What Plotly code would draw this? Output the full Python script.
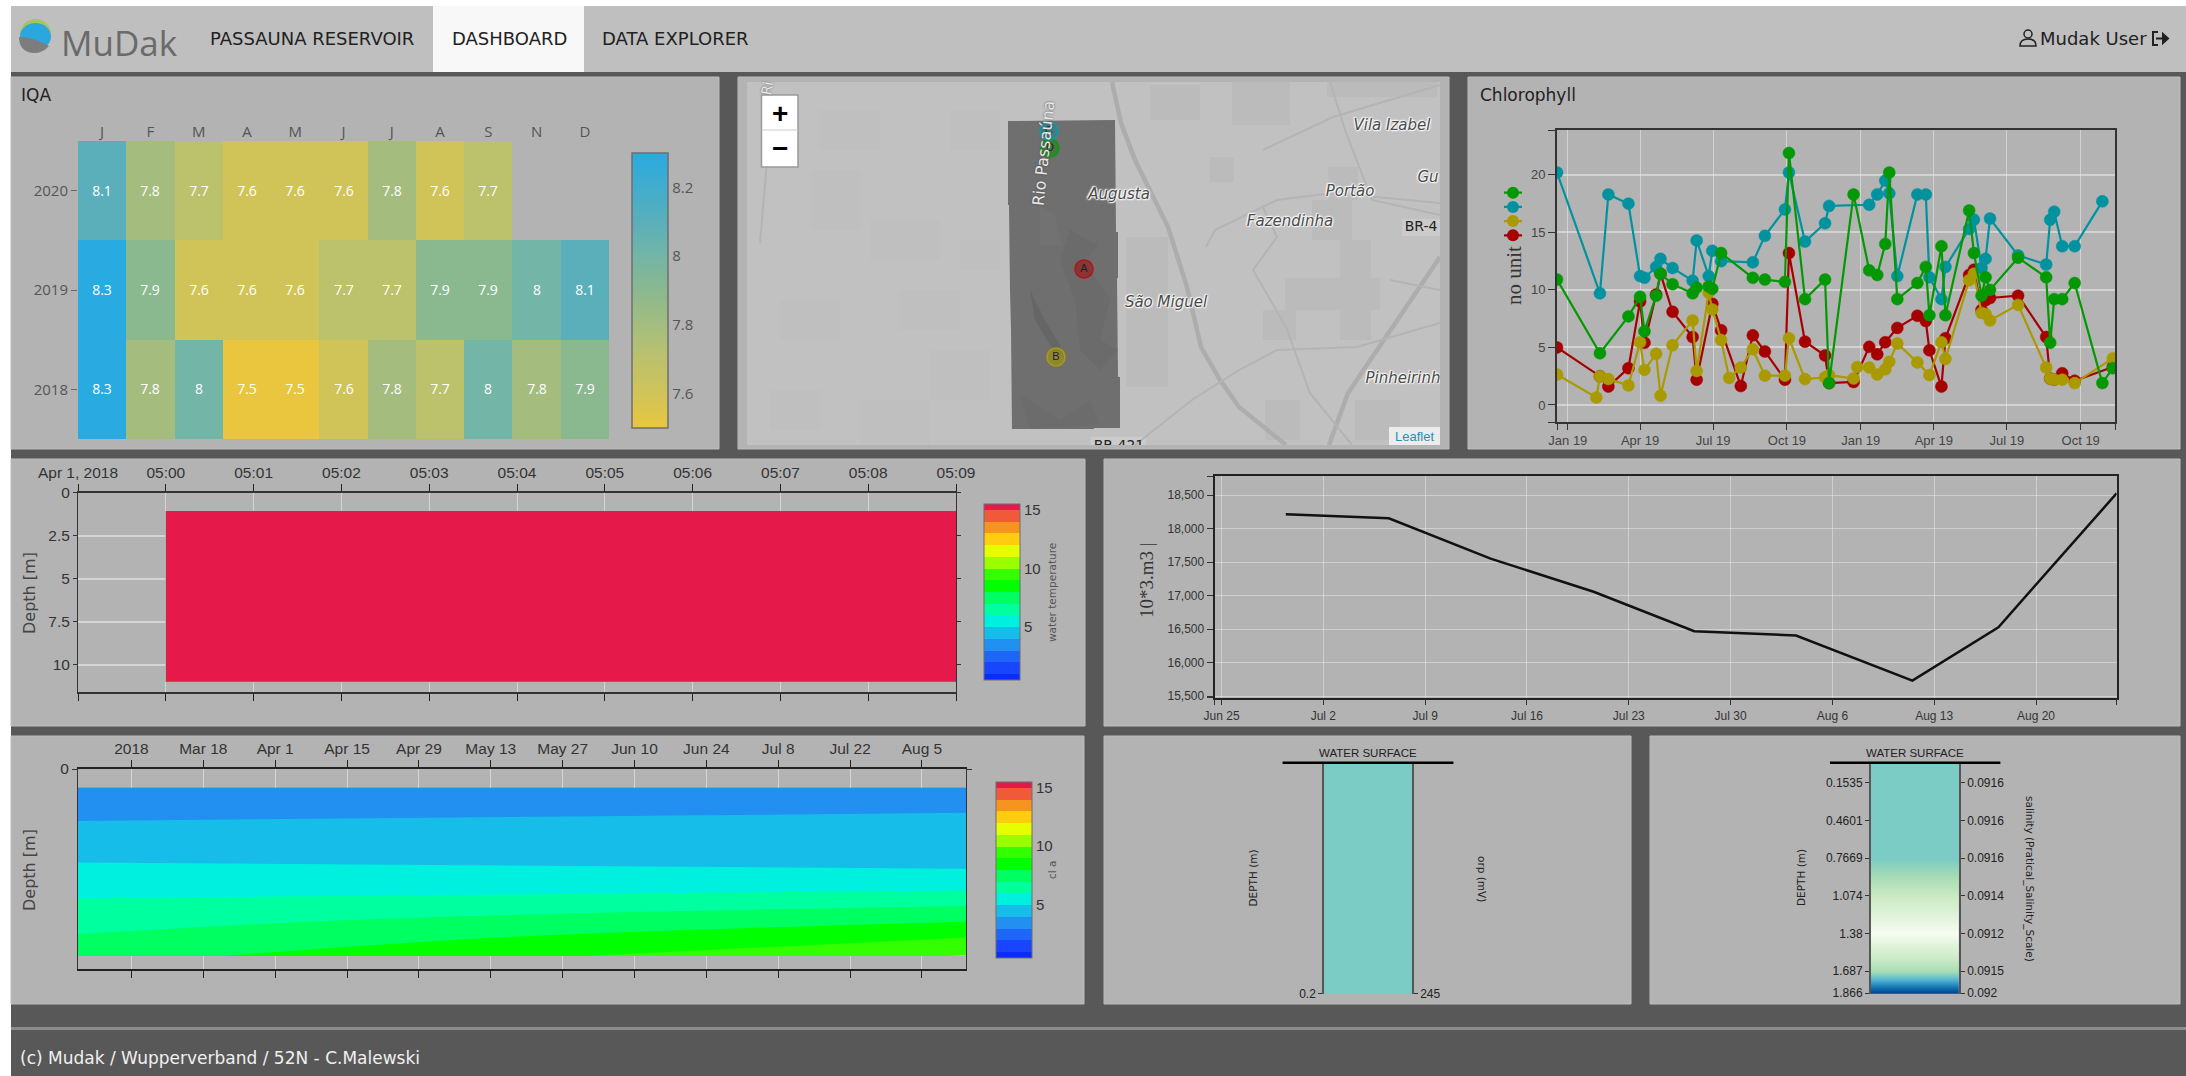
import pandas as pd
import plotly.graph_objects as go

W, H = 2186, 1076

# ---------- IQA heatmap ----------
iqa_months = ["J", "F", "M", "A", "M", "J", "J", "A", "S", "N", "D"]
iqa_years = ["2018", "2019", "2020"]
iqa_2018 = [8.3, 7.8, 8, 7.5, 7.5, 7.6, 7.8, 7.7, 8, 7.8, 7.9]
iqa_2019 = [8.3, 7.9, 7.6, 7.6, 7.6, 7.7, 7.7, 7.9, 7.9, 8, 8.1]
iqa_2020 = [8.1, 7.8, 7.7, 7.6, 7.6, 7.6, 7.8, 7.6, 7.7, None, None]
iqa_ticks = [7.6, 7.8, 8, 8.2]

# ---------- Chlorophyll (x = half-days after 1 Jan) ----------
chl_teal_x = [-27, 80, 101, 151, 180, 191, 220, 231, 261, 311, 321, 351, 360, 382, 461, 491, 541, 551, 591, 641, 651, 751, 771, 791, 801, 821, 871, 892, 901, 931, 941, 1000, 1012, 1031, 1041, 1052, 1122, 1192, 1202, 1212, 1232, 1263, 1332]
chl_teal_y = [20.2, 9.7, 18.3, 17.5, 11.2, 11.05, 12.0, 12.7, 11.9, 10.8, 14.3, 11.2, 13.4, 12.5, 12.4, 14.7, 17.0, 20.2, 14.2, 15.8, 17.3, 17.4, 18.3, 19.5, 18.4, 11.2, 18.3, 18.3, 11.1, 9.2, 12.0, 15.3, 16.1, 11.9, 12.7, 16.2, 13.0, 12.2, 16.1, 16.8, 13.8, 13.8, 17.7]
chl_green_x = [-27, 80, 151, 180, 191, 220, 231, 261, 311, 321, 351, 360, 382, 461, 491, 541, 551, 591, 641, 651, 712, 751, 771, 791, 801, 821, 871, 892, 901, 931, 941, 1000, 1012, 1031, 1041, 1052, 1122, 1192, 1202, 1212, 1232, 1263, 1332, 1358]
chl_green_y = [10.9, 4.5, 7.7, 9.4, 6.4, 9.5, 11.4, 10.5, 9.7, 10.2, 10.3, 10.1, 13.2, 11.05, 10.9, 10.7, 21.9, 9.2, 10.9, 1.9, 18.3, 11.7, 11.3, 14.0, 20.2, 9.2, 10.6, 12.0, 7.8, 13.8, 7.8, 16.9, 13.2, 9.5, 11.1, 10.0, 12.8, 11.1, 5.4, 9.2, 9.2, 10.6, 1.9, 3.2]
chl_red_x = [-27, 80, 101, 151, 180, 191, 220, 231, 261, 311, 321, 360, 382, 431, 461, 491, 541, 551, 591, 641, 651, 712, 751, 771, 791, 821, 871, 892, 901, 931, 941, 1000, 1012, 1031, 1041, 1052, 1122, 1192, 1202, 1212, 1232, 1263, 1358]
chl_red_y = [5.0, 2.5, 1.6, 3.2, 9.0, 5.4, 9.6, 11.4, 8.1, 5.9, 2.2, 8.8, 6.5, 1.65, 6.05, 4.65, 2.2, 13.2, 5.5, 4.3, 1.9, 2.0, 5.05, 4.4, 5.45, 6.7, 7.75, 7.3, 4.75, 1.6, 5.8, 11.3, 11.75, 8.25, 9.1, 9.3, 9.5, 5.9, 2.3, 2.2, 2.75, 2.1, 3.3]
chl_olive_x = [-27, 71, 80, 101, 151, 180, 191, 220, 231, 261, 311, 321, 351, 360, 382, 402, 431, 461, 491, 541, 551, 591, 641, 651, 712, 721, 751, 771, 791, 801, 821, 871, 901, 931, 941, 1000, 1012, 1031, 1041, 1052, 1122, 1192, 1202, 1212, 1232, 1263, 1358]
chl_olive_y = [2.65, 0.65, 2.5, 2.25, 1.7, 5.45, 3.05, 4.45, 0.8, 5.2, 7.35, 2.95, 9.75, 8.3, 5.65, 2.35, 3.25, 4.85, 2.55, 2.55, 5.8, 2.25, 2.4, 2.6, 2.3, 3.3, 3.25, 2.65, 3.1, 3.75, 5.35, 3.7, 2.6, 5.45, 4.0, 10.85, 11.4, 8.0, 7.9, 7.35, 8.7, 3.25, 2.3, 2.2, 2.2, 1.9, 4.05]
chl_tick_dates = ["2019-01-01", "2019-04-01", "2019-07-01", "2019-10-01", "2020-01-01", "2020-04-01", "2020-07-01", "2020-10-01"]
chl_tick_text = ["Jan 19", "Apr 19", "Jul 19", "Oct 19", "Jan 19", "Apr 19", "Jul 19", "Oct 19"]
chl_y_ticks = [0, 5, 10, 15, 20]

# ---------- Water temperature depth-time panel ----------
temp_times = ["2018-04-01 05:00", "2018-04-01 05:09"]
temp_depths = [1.06, 10.96, 11.0]
temp_values = [[15.7, 15.7], [15.7, 15.7], [14.5, 14.5]]
temp_tick_times = ["2018-04-01 04:59", "2018-04-01 05:00", "2018-04-01 05:01", "2018-04-01 05:02", "2018-04-01 05:03", "2018-04-01 05:04", "2018-04-01 05:05", "2018-04-01 05:06", "2018-04-01 05:07", "2018-04-01 05:08", "2018-04-01 05:09"]
temp_tick_text = ["Apr 1, 2018", "05:00", "05:01", "05:02", "05:03", "05:04", "05:05", "05:06", "05:07", "05:08", "05:09"]
temp_depth_ticks = [0, 2.5, 5, 7.5, 10]
jet_bands = ["#0a2cff", "#1a45ff", "#1d66f7", "#2190f0", "#16bde8", "#00f0e0", "#00ff9f", "#00ff60", "#00ff00", "#33ff00", "#99ff00", "#e6ff00", "#ffcc0f", "#f5941f", "#f15a38", "#e61a4a"]

# ---------- Volume line ----------
vol_dates = ["2019-06-29 10:00", "2019-07-06 12:00", "2019-07-13 12:00", "2019-07-20 14:00", "2019-07-27 12:00", "2019-08-03 12:00", "2019-08-11 12:00", "2019-08-17 10:00", "2019-08-25 13:00"]
vol_values = [18214, 18154, 17551, 17057, 16467, 16403, 15730, 16527, 18525]
vol_tick_dates = ["2019-06-25", "2019-07-02", "2019-07-09", "2019-07-16", "2019-07-23", "2019-07-30", "2019-08-06", "2019-08-13", "2019-08-20"]
vol_tick_text = ["Jun 25", "Jul 2", "Jul 9", "Jul 16", "Jul 23", "Jul 30", "Aug 6", "Aug 13", "Aug 20"]
vol_y_ticks = [15500, 16000, 16500, 17000, 17500, 18000, 18500]

# ---------- chl-a depth-time panel ----------
chla_dates = ["2018-02-21 14:00", "2018-08-13 14:00"]
chla_depths = [1, 2, 3, 4, 5, 6, 7, 8, 9, 10]
chla_start = [3.2, 3.65, 4.10, 4.54, 5.0, 5.52, 6.04, 6.57, 7.09, 7.6]
chla_end = [3.5, 3.89, 4.21, 4.51, 4.8, 5.39, 6.6, 7.8, 8.98, 10.05]
chla_tick_dates = ["2018-03-04", "2018-03-18", "2018-04-01", "2018-04-15", "2018-04-29", "2018-05-13", "2018-05-27", "2018-06-10", "2018-06-24", "2018-07-08", "2018-07-22", "2018-08-05"]
chla_tick_text = ["2018", "Mar 18", "Apr 1", "Apr 15", "Apr 29", "May 13", "May 27", "Jun 10", "Jun 24", "Jul 8", "Jul 22", "Aug 5"]

# ---------- Profile strips ----------
orp_depths = [0.0, 0.2]
orp_values = [245, 245]
sal_depths = [0.1535, 0.4601, 0.7669, 1.074, 1.38, 1.687, 1.9937]
sal_values = [0.0916, 0.0916, 0.0916, 0.0914, 0.0912, 0.0915, 0.09236]
sal_depth_ticks = [0.1535, 0.4601, 0.7669, 1.074, 1.38, 1.687, 1.866]
sal_depth_text = ["0.1535", "0.4601", "0.7669", "1.074", "1.38", "1.687", "1.866"]
sal_value_text = ["0.0916", "0.0916", "0.0916", "0.0914", "0.0912", "0.0915", "0.092"]
gnbu = ["#f7fcf0", "#e0f3db", "#ccebc5", "#a8ddb5", "#7bccc4", "#4eb3d3", "#2b8cbe", "#0868ac", "#084081"]

# ---------- Map ----------
site_names = ["D", "C", "A", "B"]
site_x = [1050, 1049, 1084, 1056]
site_y = [148, 131, 269, 357]
site_fill = ["rgba(0,140,0,.45)", "rgba(0,150,160,.5)", "rgba(170,0,0,.5)", "rgba(170,153,0,.55)"]
site_line = ["#0a9b0a", "#109aa6", "#b01515", "#a89b10"]
place_names = ["Vila Izabel", "Gu", "Portão", "Fazendinha", "Augusta", "São Miguel", "Pinheirinh"]
place_x = [1392, 1428, 1350, 1290, 1119, 1166, 1403]
place_y = [126, 178, 192, 222, 195, 303, 379]
road_major = [
    ([1112, 1121, 1135, 1168, 1187, 1201, 1220, 1239, 1286], [82, 123, 160, 227, 287, 347, 380, 407, 445]),
    ([1440, 1381, 1348, 1329], [257, 343, 393, 445]),
]
road_minor = [
    ([1135, 1192, 1239, 1277, 1357, 1440], [445, 400, 370, 350, 347, 323]),
    ([1206, 1215, 1277, 1333, 1440], [247, 230, 200, 193, 203]),
    ([1253, 1286, 1310, 1352], [270, 327, 393, 445]),
    ([1263, 1333, 1440], [150, 117, 85]),
    ([1253, 1277, 1262], [270, 237, 205]),
    ([1390, 1440], [280, 290]),
    ([1330, 1345, 1372, 1440], [82, 130, 200, 215]),
    ([767, 760], [160, 243]),
]

FS = "Liberation Sans"
UI = "DejaVu Sans"
SERIF = "Liberation Serif"
PANEL = "#b3b3b3"
DARK = "#585858"

fig = go.Figure()
layout = {}
shapes, anns = [], []


def axes(n, box, xopts, yopts):
    x0, x1, y0, y1 = box
    sx = "" if n == 1 else str(n)
    xd = dict(domain=[x0 / W, x1 / W], anchor=f"y{sx}", zeroline=False, showgrid=False, layer="below traces")
    yd = dict(domain=[1 - y1 / H, 1 - y0 / H], anchor=f"x{sx}", zeroline=False, showgrid=False, layer="below traces")
    xd.update(xopts)
    yd.update(yopts)
    layout[f"xaxis{sx}"] = xd
    layout[f"yaxis{sx}"] = yd
    return f"x{sx}", f"y{sx}"


def rect(x0, y0, x1, y1, fill, line=None, lw=0):
    shapes.append(dict(type="rect", xref="x", yref="y", x0=x0, y0=y0, x1=x1, y1=y1, fillcolor=fill,
                       line=dict(color=line or fill, width=lw), layer="below"))


def path(d, fill="rgba(0,0,0,0)", line="rgba(0,0,0,0)", lw=0):
    shapes.append(dict(type="path", xref="x", yref="y", path=d, fillcolor=fill, line=dict(color=line, width=lw), layer="below"))


def text(x, y, s, size, color="#222", family=UI, xa="center", angle=0, **font):
    anns.append(dict(xref="x", yref="y", x=x, y=y, text=s, showarrow=False, xanchor=xa, yanchor="middle",
                     textangle=angle, font=dict(family=family, size=size, color=color, **font)))


# ---------- chrome, in pixel space ----------
xp, yp = axes(1, (0, W, 0, H), dict(range=[0, W], visible=False), dict(range=[H, 0], visible=False))
fig.add_trace(go.Scatter(x=[0], y=[0], mode="markers", marker=dict(size=1, opacity=0), xaxis=xp, yaxis=yp, showlegend=False, hoverinfo="skip"))

rect(0, 0, W, 6, "#ffffff")
rect(0, 0, 11, H, "#ffffff")
rect(11, 6, W, 72, "#bfbfbf")
rect(433, 6, 584, 72, "#f8f8f8")
for b in [(11, 77, 719, 449), (738, 77, 1449, 449), (1468, 77, 2180, 449),
          (11, 459, 1085, 726), (1104, 459, 2180, 726),
          (11, 736, 1084, 1004), (1104, 736, 1631, 1004), (1650, 736, 2180, 1004)]:
    rect(b[0], b[1], b[2], b[3], PANEL, "#bcbcbc", 1)
rect(11, 1027, W, 1030, "#8c8c8c")

# logo
shapes.append(dict(type="circle", xref="x", yref="y", x0=20, y0=19, x1=51, y1=50, fillcolor="#a9c45c", line=dict(width=0), layer="below"))
shapes.append(dict(type="circle", xref="x", yref="y", x0=20, y0=23, x1=51, y1=50, fillcolor="#2aa7df", line=dict(width=0), layer="below"))
path("M 19 37 Q 33 37 49 46 Q 42 54 32 53 Q 19 51 19 37 Z", "#7d7d7d")
text(59, 42, "MuDak", 35, "#6a6a6a", "Open Sans", "left")
text(312, 38, "PASSAUNA RESERVOIR", 18, "#222")
text(509, 38, "DASHBOARD", 18, "#222")
text(675, 38, "DATA EXPLORER", 18, "#222")
text(2093, 38, "Mudak User", 18, "#222")
shapes.append(dict(type="circle", xref="x", yref="y", x0=2024, y0=30, x1=2032, y1=38, line=dict(color="#222", width=1.5), layer="below"))
path("M 2020 46 Q 2020 39 2028 39 Q 2036 39 2036 46 Z", line="#222", lw=1.5)
path("M 2158 32 L 2153 32 L 2153 45 L 2158 45", line="#222", lw=2)
path("M 2156 38.5 L 2163 38.5 M 2163 34 L 2168 38.5 L 2163 43 Z", "#222", "#222", 2)

text(19, 95, "IQA", 17, "#222", xa="left")
text(1478, 95, "Chlorophyll", 17, "#222", xa="left")
text(18, 1058, "(c) Mudak / Wupperverband / 52N - C.Malewski", 17, "#f0f0f0", xa="left")

# ---------- IQA ----------
xh, yh = axes(2, (78, 609, 141, 439),
              dict(side="top", range=[-0.5, 10.5], tickmode="array", tickvals=list(range(11)), ticktext=iqa_months,
                   tickfont=dict(family="Open Sans", size=15, color="#555"), ticks=""),
              dict(type="category", categoryorder="array", categoryarray=iqa_years, tickfont=dict(family="Open Sans", size=15, color="#555"),
                   ticks="outside", ticklen=6, tickcolor="#666"))
iqa_scale = [[0, "#e9c63e"], [0.125, "#d0c459"], [0.25, "#bcc16c"], [0.375, "#a4bd7f"], [0.5, "#8ab88f"],
             [0.625, "#73b5a6"], [0.75, "#5aafba"], [1, "#29aae1"]]
fig.add_trace(go.Heatmap(
    z=[iqa_2018, iqa_2019, iqa_2020], x=list(range(11)), y=iqa_years, xaxis=xh, yaxis=yh, zmin=7.5, zmax=8.3,
    colorscale=iqa_scale, texttemplate="%{z}", textfont=dict(family="Open Sans", size=14, color="#fff"), hoverongaps=False,
    colorbar=dict(x=632 / W, xanchor="left", xpad=0, ypad=0, y=1 - 153 / H, yanchor="top", lenmode="pixels", len=275,
                  thickness=36, tickmode="array", tickvals=iqa_ticks, ticktext=["7.6", "7.8", "8", "8.2"], ticks="",
                  tickfont=dict(family="Open Sans", size=15, color="#555"), outlinecolor="#6f6f6f", outlinewidth=1.5)))

# ---------- Map ----------
rect(747, 82, 1440, 445, "#c1c1c1")
for b in [(1126, 237, 1168, 387), (1210, 157, 1234, 182), (1263, 310, 1296, 340), (1285, 278, 1380, 310),
          (1312, 200, 1352, 240), (1340, 240, 1371, 340), (1328, 167, 1358, 200), (1327, 82, 1437, 97),
          (1232, 82, 1290, 125), (1150, 85, 1200, 120), (1265, 400, 1300, 440), (1355, 400, 1400, 440)]:
    rect(b[0], b[1], b[2], b[3], "#bbbbbb")
for b in [(812, 170, 860, 230), (780, 300, 840, 340), (860, 400, 930, 445), (870, 220, 940, 260), (950, 110, 1000, 150),
          (770, 390, 820, 430), (900, 290, 960, 330), (820, 110, 880, 150), (930, 350, 990, 400), (960, 240, 1000, 270)]:
    rect(b[0], b[1], b[2], b[3], "#bfbfbf")
path("M 1008 121 L 1115 120 L 1116 232 L 1118 232 L 1118 278 L 1117 278 L 1118 377 L 1120 377 L 1120 428 L 1094 428 L 1094 429 L 1012 429 L 1011 330 L 1010 290 L 1009 205 L 1008 205 Z", "#6f6f6f")
path("M 1030 290 L 1045 320 L 1060 345 L 1064 360 L 1050 345 L 1035 320 Z", "#666666")
path("M 1070 230 L 1098 245 L 1085 262 L 1110 300 L 1100 340 L 1118 350 L 1100 370 L 1080 350 L 1075 300 L 1060 262 Z", "#6b6b6b")
path("M 1010 365 L 1020 395 L 1060 420 L 1090 400 L 1100 425 L 1030 428 Z", "#6c6c6c")
path("M 1040 205 L 1055 215 L 1062 245 L 1040 245 Z", "#727272")

xm, ym = axes(3, (747, 1440, 82, 445), dict(range=[747, 1440], visible=False), dict(range=[445, 82], visible=False))
for (rx, ry) in road_major:
    fig.add_trace(go.Scatter(x=rx, y=ry, mode="lines", line=dict(color="#adadad", width=4.5), xaxis=xm, yaxis=ym, showlegend=False, hoverinfo="skip"))
for (rx, ry) in road_minor:
    fig.add_trace(go.Scatter(x=rx, y=ry, mode="lines", line=dict(color="#b4b4b4", width=2), xaxis=xm, yaxis=ym, showlegend=False, hoverinfo="skip"))
halo = "0 0 2px #fff, 0 0 2px #fff, 0 0 3px #fff, 1px 1px 1px #eee, -1px -1px 1px #eee"
fig.add_trace(go.Scatter(x=site_x, y=site_y, text=site_names, mode="markers+text", textposition="middle center",
                         textfont=dict(family=FS, size=11, color="#222"),
                         marker=dict(size=18, color=site_fill, line=dict(color=site_line, width=1.5)),
                         xaxis=xm, yaxis=ym, showlegend=False, hoverinfo="skip"))
fig.add_trace(go.Scatter(x=place_x, y=place_y, text=place_names, mode="text",
                         textfont=dict(family=UI, size=15, color="#4a4a4a", style="italic", shadow=halo),
                         xaxis=xm, yaxis=ym, showlegend=False, hoverinfo="skip"))
rect(1402, 219, 1440, 236, "#cbcbcb")
rect(1091, 437, 1146, 445, "#cbcbcb")
fig.add_trace(go.Scatter(x=[1421, 1119], y=[227, 446], text=["BR-4", "BR-421"], mode="text",
                         textfont=dict(family=UI, size=14, color="#222"), xaxis=xm, yaxis=ym, showlegend=False, hoverinfo="skip"))
text(1043, 153, "Rio Passaúna", 16, "#e8e8e8", UI, angle=-84, shadow="0 0 2px #444", style="normal")
text(767, 88, "Ri", 14, "#e8e8e8", UI, angle=-80, shadow="0 0 2px #555")
rect(1389, 427, 1440, 445, "#ececec")
text(1414, 436, "Leaflet", 13, "#2a8fb5", FS)
shapes.append(dict(type="rect", xref="x", yref="y", x0=761.5, y0=95, x1=798, y1=167, fillcolor="#fff",
                   line=dict(color="#9a9a9a", width=1.5), layer="above"))
shapes.append(dict(type="line", xref="x", yref="y", x0=762, y0=130, x1=798, y1=130, line=dict(color="#ccc", width=1), layer="above"))
text(780, 113, "+", 28, "#000", FS, weight="bold")
text(780, 148, "−", 28, "#000", FS, weight="bold")

# ---------- Chlorophyll ----------
day0 = pd.Timestamp("2019-01-01")


def chl_dates(halfdays):
    return [day0 + pd.Timedelta(hours=12 * d) for d in halfdays]


left_end, right_end = chl_dates([-27, 1363.5])
grid = "rgba(235,235,235,.55)"
xc, yc = axes(4, (1557, 2115, 130, 422),
              dict(type="date", range=[left_end, right_end], tickmode="array", tickvals=[left_end] + chl_tick_dates + [right_end],
                   ticktext=[""] + chl_tick_text + [""], ticks="outside", ticklen=6, tickcolor="#333",
                   tickfont=dict(family=FS, size=13, color="#444"), showgrid=True, gridcolor=grid, gridwidth=1,
                   showline=True, linecolor="#333", linewidth=1.5, mirror=True),
              dict(range=[-1.48, 23.9], tickmode="array", tickvals=[-1.48] + chl_y_ticks + [23.9],
                   ticktext=[""] + [str(v) for v in chl_y_ticks] + [""], ticks="outside", ticklen=7, tickcolor="#333",
                   tickfont=dict(family=FS, size=13, color="#444"), showgrid=True, gridcolor=grid, gridwidth=1.5,
                   showline=True, linecolor="#333", linewidth=2, mirror=True))
chl_series = [("A", chl_red_x, chl_red_y, "#a60000"), ("B", chl_olive_x, chl_olive_y, "#a89a00"),
              ("C", chl_teal_x, chl_teal_y, "#00939f"), ("D", chl_green_x, chl_green_y, "#049904")]
for name, sx, sy, col in chl_series:
    fig.add_trace(go.Scatter(x=chl_dates(sx), y=sy, name=name, mode="lines+markers", xaxis=xc, yaxis=yc, showlegend=False,
                             line=dict(color=col, width=2.2), marker=dict(size=12, color=col, line=dict(color=col, width=0.5))))
xl, yl = axes(5, (1504, 1522, 186.3, 241.7), dict(range=[0, 2], visible=False), dict(range=[3.45, -0.45], visible=False))
for i, (name, sx, sy, col) in enumerate(reversed(chl_series)):
    fig.add_trace(go.Scatter(x=[0, 2], y=[i, i], mode="lines", line=dict(color=col, width=2.2),
                             xaxis=xl, yaxis=yl, showlegend=False, hoverinfo="skip"))
    fig.add_trace(go.Scatter(x=[1], y=[i], mode="markers", marker=dict(size=12, color=col),
                             xaxis=xl, yaxis=yl, showlegend=False, hoverinfo="skip"))
text(1514, 276, "no unit", 21, "#333", SERIF, angle=-90)

# ---------- Water temperature ----------
cell_grid = "rgba(235,235,235,.6)"
xt, yt = axes(6, (78, 956, 492.7, 691.7),
              dict(type="date", side="top", range=[temp_tick_times[0], temp_tick_times[-1]], tickmode="array", tickvals=temp_tick_times,
                   ticktext=temp_tick_text, ticks="outside", ticklen=7, tickcolor="#222",
                   tickfont=dict(family=FS, size=15.5, color="#333"), showgrid=True, gridcolor=cell_grid, gridwidth=1,
                   showline=True, linecolor="#333", linewidth=2, mirror="ticks"),
              dict(range=[11.57, 0], tickmode="array", tickvals=temp_depth_ticks, ticktext=["0", "2.5", "5", "7.5", "10"],
                   ticks="outside", ticklen=4, tickcolor="#333", tickfont=dict(family=FS, size=15.5, color="#333"),
                   showgrid=True, gridcolor=cell_grid, gridwidth=1.5, showline=True, linecolor="#333", linewidth=1, mirror="ticks"))
jet_scale = [[i / (len(jet_bands) - 1), c] for i, c in enumerate(jet_bands)]


def band_colorbar(x0, y0):
    return dict(x=x0 / W, xanchor="left", xpad=0, ypad=0, y=1 - y0 / H, yanchor="top", lenmode="pixels", len=176, thickness=36,
                tickmode="array", tickvals=[5, 10, 15], ticktext=["5", "10", "15"], ticks="",
                tickfont=dict(family=FS, size=15, color="#333"), outlinecolor="#6f6f6f", outlinewidth=1)


fig.add_trace(go.Contour(x=temp_times, y=temp_depths, z=temp_values, xaxis=xt, yaxis=yt, autocontour=False,
                         contours=dict(start=1, end=15, size=1, coloring="fill", showlines=False), line=dict(width=0),
                         colorscale=jet_scale, colorbar=band_colorbar(984, 504)))
text(29, 593, "Depth [m]", 16, "#444", UI, angle=-90)
text(1052, 593, "water temperature", 10.5, "#555", UI, angle=-90)

# ---------- Volume ----------
vol_left, vol_right = "2019-06-24 12:30", "2019-08-25 13:00"
vol_grid = "rgba(235,235,235,.5)"
xv, yv = axes(7, (1214.6, 2116.6, 476, 697.7),
              dict(type="date", range=[vol_left, vol_right], tickmode="array", tickvals=[vol_left] + vol_tick_dates + [vol_right],
                   ticktext=[""] + vol_tick_text + [""], ticks="outside", ticklen=6, tickcolor="#333",
                   tickfont=dict(family=FS, size=12, color="#333"), showgrid=True, gridcolor=vol_grid, gridwidth=1,
                   showline=True, linecolor="#222", linewidth=1.5, mirror=True),
              dict(range=[15475, 18785], tickmode="array", tickvals=[15475] + vol_y_ticks + [18785],
                   ticktext=[""] + [f"{v:,}" for v in vol_y_ticks] + [""], ticks="outside", ticklen=6, tickcolor="#333",
                   tickfont=dict(family=FS, size=12, color="#333"), showgrid=True, gridcolor=vol_grid, gridwidth=1.2,
                   showline=True, linecolor="#222", linewidth=2, mirror=True))
fig.add_trace(go.Scatter(x=vol_dates, y=vol_values, mode="lines", line=dict(color="#111", width=2.5), xaxis=xv, yaxis=yv, showlegend=False))
text(1146, 580, "10*3.m3 |", 19, "#333", SERIF, angle=-90)

# ---------- chl-a ----------
xa, ya = axes(8, (78, 966, 769, 969),
              dict(type="date", side="top", range=chla_dates, tickmode="array", tickvals=chla_tick_dates, ticktext=chla_tick_text,
                   ticks="outside", ticklen=7, tickcolor="#222", tickfont=dict(family=FS, size=15.5, color="#333"),
                   showgrid=True, gridcolor=cell_grid, gridwidth=1, showline=True, linecolor="#222", linewidth=1.5, mirror="ticks"),
              dict(range=[10.7, 0], tickmode="array", tickvals=[0], ticktext=["0"], ticks="outside", ticklen=5, tickcolor="#333",
                   tickfont=dict(family=FS, size=15.5, color="#333"), showline=True, linecolor="#333", linewidth=1, mirror="ticks"))
fig.add_trace(go.Contour(x=chla_dates, y=chla_depths, z=[list(p) for p in zip(chla_start, chla_end)], xaxis=xa, yaxis=ya,
                         autocontour=False, contours=dict(start=1, end=15, size=1, coloring="fill", showlines=False),
                         line=dict(width=0), colorscale=jet_scale, colorbar=band_colorbar(996, 781.7)))
text(29, 870, "Depth [m]", 16, "#444", UI, angle=-90)
text(1052, 870, "cl a", 10.5, "#555", UI, angle=-90)

# ---------- Profile strips ----------
strip_font = dict(family=FS, size=12, color="#222")


def strip_axes(n, box, ymax, ticks, left_text, right_text):
    xs, ys = axes(n, box, dict(range=[0, 1], visible=False),
                  dict(range=[ymax, 0], tickmode="array", tickvals=ticks, ticktext=left_text, ticks="outside", ticklen=4,
                       tickcolor="#333", tickfont=strip_font, showline=True, linecolor="#555", linewidth=1.5))
    key = f"yaxis{n + 10}"
    layout[key] = dict(overlaying=ys, side="right", anchor=xs, range=[ymax, 0], tickmode="array", tickvals=ticks, ticktext=right_text,
                       ticks="outside", ticklen=4, tickcolor="#333", tickfont=strip_font, showline=True, linecolor="#555",
                       linewidth=1.5, zeroline=False, showgrid=False)
    fig.add_trace(go.Scatter(x=[0.5] * len(ticks), y=ticks, mode="markers", marker=dict(size=1, opacity=0), xaxis=xs, yaxis=f"y{n + 10}",
                             showlegend=False, hoverinfo="skip"))
    return xs, ys


gnbu_scale = [[i / 8, c] for i, c in enumerate(gnbu)]
xd, yd = strip_axes(9, (1324, 1412, 764, 993.7), 0.2, [0.2], ["0.2"], ["245"])
fig.add_trace(go.Heatmap(x=[0, 1], y=orp_depths, z=[[v, v] for v in orp_values], xaxis=xd, yaxis=yd, zmin=244, zmax=246,
                         colorscale=gnbu_scale, showscale=False, zsmooth="best"))
xe, ye = strip_axes(10, (1870.8, 1959, 764, 993.7), 1.87, sal_depth_ticks, sal_depth_text, sal_value_text)
fig.add_trace(go.Heatmap(x=[0, 1], y=sal_depths, z=[[v, v] for v in sal_values], xaxis=xe, yaxis=ye, zmin=0.0912, zmax=0.092,
                         colorscale=gnbu_scale, showscale=False, zsmooth="best"))
for cx, x0, x1 in [(1368, 1282.6, 1453.4), (1915, 1830, 2000.4)]:
    text(cx, 753, "WATER SURFACE", 11.5, "#222", FS)
    shapes.append(dict(type="line", xref="x", yref="y", x0=x0, x1=x1, y0=762.7, y1=762.7, line=dict(color="#000", width=2.5), layer="below"))
text(1252.5, 878, "DEPTH (m)", 10.5, "#222", UI, angle=-90)
text(1801, 878, "DEPTH (m)", 10.5, "#222", UI, angle=-90)
text(1482, 879, "orp (mV)", 10.5, "#222", UI, angle=90)
text(2030, 879, "salinity (Pratical_Salinity_Scale)", 10.5, "#222", UI, angle=90)

fig.update_layout(width=W, height=H, margin=dict(l=0, r=0, t=0, b=0, pad=0, autoexpand=False), paper_bgcolor=DARK,
                  plot_bgcolor="rgba(0,0,0,0)", showlegend=False, shapes=shapes, annotations=anns, **layout)
fig.write_html("out.html", config={"displayModeBar": False},
               post_script="document.body.style.margin='0';document.documentElement.style.overflow='hidden';")
